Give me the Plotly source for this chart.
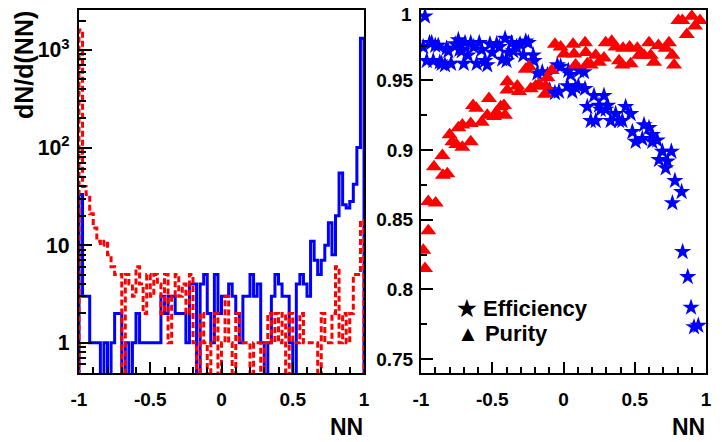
import numpy as np
import plotly.graph_objects as go

# NN output histograms (80 bins between -1 and 1)
nn_edges = np.linspace(-1, 1, 81)
signal_counts = [33, 3, 3, 1, 1, 1, 0, 1, 0, 1, 2, 2, 0, 1, 0, 1, 2, 1, 1, 1,
                 1, 1, 1, 3, 2, 3, 3, 2, 2, 2, 1, 4, 4, 0, 4, 5, 2, 1, 5, 2,
                 3, 3, 4, 3, 2, 1, 3, 3, 5, 3, 4, 1, 0, 1, 3, 5, 4, 3, 3, 1,
                 0, 4, 5, 4, 3, 11, 7, 5, 7, 10, 17, 8, 20, 55, 26, 24, 28, 42, 100, 1320]
background_counts = [1600, 40, 33, 21, 15, 11, 10, 11, 8, 6, 5, 5, 0, 5, 4, 3, 6, 4, 2, 5,
                     3, 5, 4, 2, 5, 1, 3, 5, 3, 4, 2, 5, 1, 0, 2, 1, 0, 1, 2, 0,
                     1, 3, 1, 0, 2, 1, 1, 1, 0, 1, 1, 0, 1, 2, 1, 2, 1, 2, 0, 2,
                     1, 1, 2, 1, 1, 1, 1, 0, 2, 1, 1, 2, 6, 1, 2, 1, 2, 5, 5, 18]

# efficiency and purity vs NN cut
eff_x = [-0.985, -0.972, -0.96, -0.94, -0.925, -0.914, -0.90, -0.879, -0.868, -0.855,
         -0.832, -0.82, -0.808, -0.789, -0.76, -0.738, -0.73, -0.714, -0.70, -0.691,
         -0.67, -0.651, -0.63, -0.609, -0.591, -0.575, -0.551, -0.535, -0.516, -0.50,
         -0.469, -0.45, -0.43, -0.41, -0.40, -0.385, -0.364, -0.352, -0.33, -0.305,
         -0.282, -0.265, -0.247, -0.212, -0.207, -0.184, -0.149, -0.113, -0.097, -0.06,
         -0.043, -0.032, -0.02, 0.027, 0.034, 0.05, 0.062, 0.085, 0.104, 0.109,
         0.144, 0.151, 0.167, 0.191, 0.214, 0.226, 0.249, 0.261, 0.284, 0.296,
         0.31, 0.331, 0.366, 0.39, 0.413, 0.436, 0.471, 0.483, 0.506, 0.553,
         0.565, 0.60, 0.623, 0.623, 0.658, 0.67, 0.694, 0.717, 0.729, 0.757,
         0.764, 0.782, 0.829, 0.836, 0.872, 0.895, 0.916, 0.946]
eff_y = [0.974, 0.996, 0.964, 0.977, 0.977, 0.964, 0.975, 0.975, 0.963, 0.962,
         0.961, 0.973, 0.971, 0.962, 0.976, 0.979, 0.972, 0.971, 0.962, 0.977,
         0.968, 0.977, 0.974, 0.962, 0.977, 0.972, 0.964, 0.961, 0.976, 0.970,
         0.976, 0.974, 0.965, 0.980, 0.964, 0.970, 0.977, 0.971, 0.974, 0.976,
         0.968, 0.978, 0.977, 0.968, 0.964, 0.955, 0.956, 0.954, 0.943, 0.941,
         0.961, 0.942, 0.960, 0.946, 0.957, 0.954, 0.942, 0.945, 0.946, 0.957,
         0.956, 0.944, 0.931, 0.921, 0.939, 0.921, 0.932, 0.929, 0.939, 0.929,
         0.932, 0.921, 0.926, 0.921, 0.921, 0.931, 0.926, 0.913, 0.906, 0.908,
         0.918, 0.916, 0.911, 0.906, 0.907, 0.893, 0.899, 0.887, 0.892, 0.899,
         0.862, 0.878, 0.870, 0.827, 0.809, 0.787, 0.773, 0.774]

pur_x = [-0.984, -0.972, -0.949, -0.949, -0.897, -0.909, -0.85, -0.846, -0.815, -0.799,
         -0.78, -0.752, -0.738, -0.71, -0.71, -0.651, -0.651, -0.635, -0.612, -0.574,
         -0.535, -0.523, -0.488, -0.471, -0.441, -0.418, -0.411, -0.394, -0.394, -0.324,
         -0.312, -0.265, -0.242, -0.23, -0.195, -0.172, -0.13, -0.125, -0.113, -0.083,
         -0.06, -0.02, 0.004, 0.067, 0.074, 0.085, 0.151, 0.156, 0.167, 0.191,
         0.226, 0.249, 0.284, 0.296, 0.338, 0.366, 0.39, 0.413, 0.418, 0.464,
         0.471, 0.518, 0.53, 0.565, 0.60, 0.612, 0.635, 0.666, 0.717, 0.74,
         0.764, 0.776, 0.806, 0.834, 0.865, 0.90, 0.923, 0.958]
pur_y = [0.828, 0.815, 0.842, 0.863, 0.862, 0.888, 0.896, 0.882, 0.883, 0.911,
         0.906, 0.904, 0.916, 0.902, 0.918, 0.906, 0.919, 0.932, 0.930, 0.920,
         0.925, 0.937, 0.924, 0.927, 0.931, 0.932, 0.925, 0.949, 0.943, 0.946,
         0.942, 0.958, 0.960, 0.944, 0.946, 0.947, 0.940, 0.946, 0.952, 0.957,
         0.976, 0.974, 0.969, 0.976, 0.969, 0.961, 0.977, 0.970, 0.962, 0.961,
         0.968, 0.963, 0.966, 0.977, 0.978, 0.974, 0.964, 0.961, 0.973, 0.974,
         0.962, 0.973, 0.968, 0.968, 0.977, 0.968, 0.963, 0.975, 0.973, 0.977,
         0.968, 0.961, 0.993, 0.993, 0.983, 0.996, 0.989, 0.993]

# the page body keeps its default 8px margin, so the figure is made 8px
# smaller and every position below is given in window pixels minus 8
PAGE_MARGIN = 8
W, H = 722 - PAGE_MARGIN, 442 - PAGE_MARGIN
FONT = "Liberation Sans, Arial, sans-serif"
LOG_FLOOR = 0.3  # empty bins drawn below the axis floor, like ROOT


def px(x):
    return (x - PAGE_MARGIN) / W


def py(y):
    return 1 - (y - PAGE_MARGIN) / H


def step_xy(counts):
    # stairs outline of a histogram, starting and ending at the floor
    c = [v if v > 0 else LOG_FLOOR for v in counts]
    xs = [nn_edges[0]] + list(nn_edges[:-1]) + [nn_edges[-1], nn_edges[-1]]
    ys = [LOG_FLOOR] + c + [c[-1], LOG_FLOOR]
    return xs, ys


fig = go.Figure()

sx, sy = step_xy(signal_counts)
fig.add_trace(go.Scatter(x=sx, y=sy, mode="lines", line_shape="hv",
                         line=dict(color="#0000ff", width=3),
                         xaxis="x", yaxis="y", showlegend=False))
bx, by = step_xy(background_counts)
fig.add_trace(go.Scatter(x=bx, y=by, mode="lines", line_shape="hv",
                         line=dict(color="#ff0000", width=3, dash="6px,3px"),
                         xaxis="x", yaxis="y", showlegend=False))

fig.add_trace(go.Scatter(x=eff_x, y=eff_y, mode="markers",
                         marker=dict(symbol="star", size=13, color="#0000ff", line_width=0),
                         xaxis="x2", yaxis="y2", showlegend=False))
fig.add_trace(go.Scatter(x=pur_x, y=pur_y, mode="markers",
                         marker=dict(symbol="triangle-up", size=14, color="#ff0000", line_width=0),
                         xaxis="x2", yaxis="y2", showlegend=False))

ydom = [py(373), py(10)]
tick_font = dict(family=FONT, size=19, color="black", weight="bold")
axis_common = dict(showline=True, linecolor="black", linewidth=2, mirror=True,
                   showgrid=False, zeroline=False, ticks="inside", tickcolor="black",
                   tickwidth=2, automargin=False, ticklabeloverflow="allow")

fig.update_layout(
    width=W, height=H,
    margin=dict(l=0, r=0, t=0, b=0, autoexpand=False),
    paper_bgcolor="white", plot_bgcolor="white",
    font=dict(family=FONT, color="black", weight="bold"),
    xaxis=dict(domain=[px(79), px(364)], range=[-1, 1], anchor="y",
               tickvals=[-1, -0.5, 0, 0.5, 1], ticktext=["-1", "-0.5", "0", "0.5", "1"],
               ticklen=11, ticklabelstandoff=8, tickfont=tick_font,
               minor=dict(ticks="inside", ticklen=6, dtick=0.1, tickcolor="black", tickwidth=2),
               **axis_common),
    yaxis=dict(domain=ydom, type="log", range=[np.log10(0.49), np.log10(2570)], anchor="x",
               dtick=1, exponentformat="power", ticklen=13, ticklabelstandoff=4,
               tickfont=dict(family=FONT, size=17, color="black", weight="bold"),
               minor=dict(ticks="inside", ticklen=7, dtick="D1", tickcolor="black", tickwidth=2),
               **axis_common),
    xaxis2=dict(domain=[px(421), px(706)], range=[-1, 1], anchor="y2",
                tickvals=[-1, -0.5, 0, 0.5, 1], ticktext=["-1", "-0.5", "0", "0.5", "1"],
                ticklen=11, ticklabelstandoff=8, tickfont=tick_font,
                minor=dict(ticks="inside", ticklen=6, dtick=0.025 * 4, tickcolor="black", tickwidth=2),
                **axis_common),
    # the top label "1" sits at the window edge, so it is written as an annotation below
    yaxis2=dict(domain=ydom, range=[0.74, 1.0005], anchor="x2",
                tickvals=[0.75, 0.8, 0.85, 0.9, 0.95, 1.0],
                ticktext=["0.75", "0.8", "0.85", "0.9", "0.95", ""],
                ticklen=12, ticklabelstandoff=2, tickfont=tick_font,
                minor=dict(ticks="inside", ticklen=6, dtick=0.025, tickcolor="black", tickwidth=2),
                **axis_common),
)

fig.add_annotation(text="1", xref="paper", yref="paper", x=px(414), y=py(15),
                   xanchor="right", yanchor="middle", showarrow=False, font=tick_font)

title_font = dict(family=FONT, size=23, color="black", weight="bold")
fig.add_annotation(text="dN/d(NN)", textangle=-90, xref="paper", yref="paper",
                   x=px(24), y=py(9), xanchor="center", yanchor="top",
                   showarrow=False, font=dict(family=FONT, size=25, color="black", weight="bold"))
fig.add_annotation(text="NN", xref="paper", yref="paper", x=px(365), y=py(427),
                   xanchor="right", yanchor="middle", showarrow=False, font=title_font)
fig.add_annotation(text="NN", xref="paper", yref="paper", x=px(707), y=py(427),
                   xanchor="right", yanchor="middle", showarrow=False, font=title_font)

# legend drawn as text, like the ROOT TLegend
legend_font = dict(family=FONT, size=22, color="black", weight="bold")
fig.add_annotation(text="★ Efficiency", xref="paper", yref="paper", x=px(455), y=py(308),
                   xanchor="left", yanchor="middle", showarrow=False, font=legend_font)
fig.add_annotation(text="▲ Purity", xref="paper", yref="paper", x=px(455), y=py(333),
                   xanchor="left", yanchor="middle", showarrow=False, font=legend_font)

fig.write_html("out.html")
